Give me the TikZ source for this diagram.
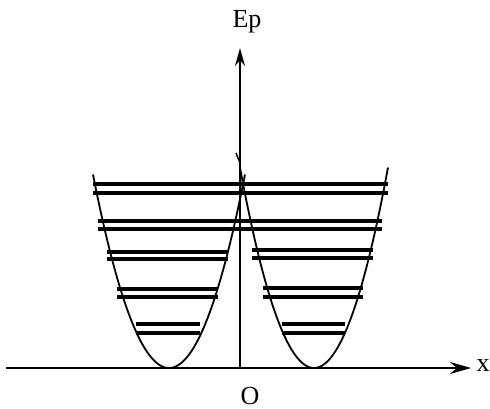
\documentclass[tikz,border=0pt]{standalone}
\usepackage{fontspec}
\setmainfont{Liberation Serif}
\usetikzlibrary{arrows.meta}
\begin{document}
\begin{tikzpicture}[x=1pt,y=-1pt,
  axis/.style={line width=1.8pt},
  well/.style={line width=1.8pt},
  level/.style={line width=3.4pt},
  lbl/.style={font=\fontsize{26}{30}\selectfont, inner sep=0pt}]
\useasboundingbox (0,0) rectangle (490,409);
% axes
\coordinate (xs) at (6,368);
\coordinate (xe) at (471,368);
\coordinate (ys) at (240,368);
\coordinate (ye) at (240,48);
\draw[axis,-{Stealth[length=21pt,width=12pt]}] (xs) -- (xe);
\draw[axis,-{Stealth[length=18pt,width=10pt]}] (ys) -- (ye);
\node[lbl] (xl) at (483,366) {x};
\node[lbl] (ep) at (247,22) {Ep};
\node[lbl] (o) at (250,396) {O};
% small barb on vertical axis
\coordinate (b1) at (236,153);
\coordinate (b2) at (240,163);
\draw[line width=1.4pt] (b1) -- (b2);
% wells
\draw[well] plot[domain=-76:76,samples=80,smooth] ({169+\x},{368-0.0335*\x*\x});
\draw[well] plot[domain=-74:74,samples=80,smooth] ({314+\x},{368-0.0366*\x*\x});
% levels
\draw[level] (93,184) -- (388,184);
\draw[level] (93,193) -- (388,193);
\draw[level] (98,221) -- (382,221);
\draw[level] (98,229) -- (382,229);
% left well
\draw[level] (107,252) -- (228,252);
\draw[level] (107,259) -- (228,259);
\draw[level] (117,289) -- (218,289);
\draw[level] (117,297) -- (218,297);
\draw[level] (136,324) -- (200,324);
\draw[level] (136,333) -- (200,333);
% right well
\draw[level] (252,250) -- (373,250);
\draw[level] (252,258) -- (373,258);
\draw[level] (263,288) -- (363,288);
\draw[level] (263,297) -- (363,297);
\draw[level] (282,324) -- (345,324);
\draw[level] (282,333) -- (345,333);
\end{tikzpicture}
\end{document}
